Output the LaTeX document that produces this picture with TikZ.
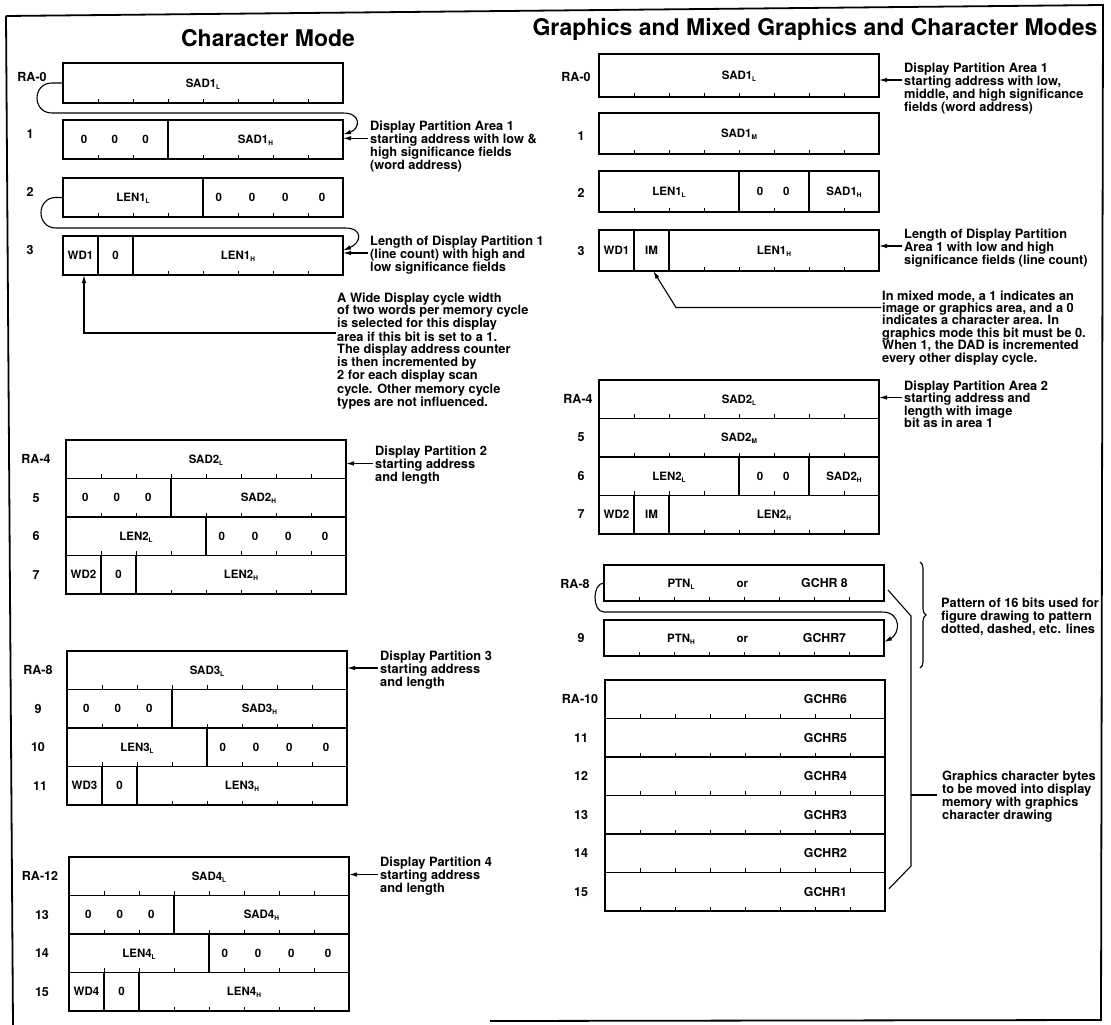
\documentclass[tikz,border=0pt]{standalone}
\usepackage{fontspec}
\setmainfont{TeX Gyre Heros}
\usetikzlibrary{calc,arrows.meta,decorations.pathreplacing}
\newcounter{fc}
\newcommand\sub[1]{\raisebox{-2pt}{\fontsize{6.5}{6.5}\selectfont #1}}
\newcommand\regrow[4]{%
  \node[reg, minimum height=#4pt, anchor=north west] (#1) at (#2,#3) {};
  \foreach \k in {1,...,7}{\draw[tickmark] ($(#1.south west)!\k/8!(#1.south east)$) -- ++(0,-4.5);}}
\newcommand\dvd[2]{\draw[bxline] ($(#1.north west)!#2/8!(#1.north east)$) -- ($(#1.south west)!#2/8!(#1.south east)$);}
\newcommand\fld[3]{\stepcounter{fc}\node[fld] (fld\arabic{fc}) at ($(#1.west)!#2/8!(#1.east)$) {#3};}
\begin{document}
\begin{tikzpicture}[x=1pt,y=-1pt,
  reg/.style={draw, line width=1.6pt, minimum width=280pt, inner sep=0pt, outer sep=0pt},
  bxline/.style={line width=1.5pt},
  tickmark/.style={line width=0.9pt},
  fld/.style={font=\fontsize{11.5}{12}\selectfont\bfseries, inner sep=0pt, text height=8.3pt, text depth=0pt},
  gch/.style={fld, font=\fontsize{12.3}{13}\selectfont\bfseries, text height=8.9pt},
  lab/.style={font=\fontsize{12.5}{13}\selectfont\bfseries, inner sep=0pt, text height=9pt, text depth=0pt},
  ann/.style={font=\fontsize{12.8}{13}\selectfont\bfseries, align=left, inner sep=0pt, anchor=north west},
  ttl/.style={font=\fontsize{23}{24}\selectfont\bfseries, inner sep=0pt, text height=16.5pt, text depth=0pt},
  arr/.style={line width=1.1pt, -{Latex[length=8pt,width=4.5pt]}},
  ln/.style={line width=1.1pt},
  frame/.style={line width=1.8pt},
]
\useasboundingbox (0,0) rectangle (1111,1025);
% frame
\draw[frame] (6,16) -- (1103,5) -- (1101,1020) -- (490,1021);
\draw[frame] (6,16) -- (13,1025);
% titles
\node[ttl] (t1) at (268,38) {Character Mode};
\node[ttl] (t2) at (815,27) {Graphics and Mixed Graphics and Character Modes};

% ================= LEFT COLUMN =================
\regrow{L0}{63}{63}{40}
\fld{L0}{4}{SAD1\sub{L}}
\regrow{L1}{63}{120}{39}
\dvd{L1}{3}
\fld{L1}{0.6}{0}\fld{L1}{1.48}{0}\fld{L1}{2.36}{0}\fld{L1}{5.5}{SAD1\sub{H}}
\regrow{L2}{63}{178}{39}
\dvd{L2}{4}
\fld{L2}{2}{LEN1\sub{L}}\fld{L2}{4.45}{0}\fld{L2}{5.4}{0}\fld{L2}{6.35}{0}\fld{L2}{7.4}{0}
\regrow{L3}{63}{236}{39}
\dvd{L3}{1}\dvd{L3}{2}
\fld{L3}{0.5}{WD1}\fld{L3}{1.5}{0}\fld{L3}{5}{LEN1\sub{H}}

\regrow{L4}{66}{440}{38.5}
\fld{L4}{4}{SAD2\sub{L}}
\regrow{L5}{66}{478.5}{38.5}
\dvd{L5}{3}
\fld{L5}{0.55}{0}\fld{L5}{1.45}{0}\fld{L5}{2.35}{0}\fld{L5}{5.5}{SAD2\sub{H}}
\regrow{L6}{66}{517}{38.5}
\dvd{L6}{4}
\fld{L6}{2}{LEN2\sub{L}}\fld{L6}{4.45}{0}\fld{L6}{5.4}{0}\fld{L6}{6.35}{0}\fld{L6}{7.4}{0}
\regrow{L7}{66}{555.5}{38.5}
\dvd{L7}{1}\dvd{L7}{2}
\fld{L7}{0.5}{WD2}\fld{L7}{1.5}{0}\fld{L7}{5}{LEN2\sub{H}}

\regrow{L8}{67}{651}{38.5}
\fld{L8}{4}{SAD3\sub{L}}
\regrow{L9}{67}{689.5}{38.5}
\dvd{L9}{3}
\fld{L9}{0.55}{0}\fld{L9}{1.45}{0}\fld{L9}{2.35}{0}\fld{L9}{5.5}{SAD3\sub{H}}
\regrow{L10}{67}{728}{38.5}
\dvd{L10}{4}
\fld{L10}{2}{LEN3\sub{L}}\fld{L10}{4.45}{0}\fld{L10}{5.4}{0}\fld{L10}{6.35}{0}\fld{L10}{7.4}{0}
\regrow{L11}{67}{766.5}{38.5}
\dvd{L11}{1}\dvd{L11}{2}
\fld{L11}{0.5}{WD3}\fld{L11}{1.5}{0}\fld{L11}{5}{LEN3\sub{H}}

\regrow{L12}{69}{857}{38.5}
\fld{L12}{4}{SAD4\sub{L}}
\regrow{L13}{69}{895.5}{38.5}
\dvd{L13}{3}
\fld{L13}{0.55}{0}\fld{L13}{1.45}{0}\fld{L13}{2.35}{0}\fld{L13}{5.5}{SAD4\sub{H}}
\regrow{L14}{69}{934}{38.5}
\dvd{L14}{4}
\fld{L14}{2}{LEN4\sub{L}}\fld{L14}{4.45}{0}\fld{L14}{5.4}{0}\fld{L14}{6.35}{0}\fld{L14}{7.4}{0}
\regrow{L15}{69}{972.5}{38.5}
\dvd{L15}{1}\dvd{L15}{2}
\fld{L15}{0.5}{WD4}\fld{L15}{1.5}{0}\fld{L15}{5}{LEN4\sub{H}}

% left labels
\node[lab] (lb-L0) at (32,77) {RA-0};
\node[lab] (lb-L1) at (30,134) {1};
\node[lab] (lb-L2) at (30,192) {2};
\node[lab] (lb-L3) at (30,250) {3};
\node[lab] (lb-L4) at (36,459) {RA-4};
\node[lab] (lb-L5) at (36,498) {5};
\node[lab] (lb-L6) at (36,536) {6};
\node[lab] (lb-L7) at (36,575) {7};
\node[lab] (lb-L8) at (38,670) {RA-8};
\node[lab] (lb-L9) at (38,709) {9};
\node[lab] (lb-L10) at (38,747) {10};
\node[lab] (lb-L11) at (40,786) {11};
\node[lab] (lb-L12) at (40,876) {RA-12};
\node[lab] (lb-L13) at (42,915) {13};
\node[lab] (lb-L14) at (42,953) {14};
\node[lab] (lb-L15) at (42,992) {15};

% left loops
\draw[arr] (L0.west) -- (52,83) .. controls (32,83) and (32,113) .. (52,113) -- (343,113)
  .. controls (362,113) and (360,129) .. ([yshift=5pt]L1.east);
\draw[arr] (L2.west) -- (56,197.5) .. controls (36,197.5) and (36,228) .. (56,228) -- (345,228)
  .. controls (364,228) and (361,243) .. ([yshift=5pt]L3.east);

% left annotations
\node[ann] (la1) at (370,120.4) {Display Partition Area 1\\starting address with low \&\\high significance fields\\(word address)};
\draw[arr] ([xshift=-2pt]la1.north west |- 0,138.3) -- (L1.east |- 0,138.3);
\node[ann] (la2) at (370,235.4) {Length of Display Partition 1\\(line count) with high and\\low significance fields};
\draw[arr] ([xshift=-2pt]la2.north west |- 0,253) -- (L3.east |- 0,253);
\node[ann, font=\fontsize{12.8}{12.2}\selectfont\bfseries] (wd) at (337,292.4) {A Wide Display cycle width\\of two words per memory cycle\\is selected for this display\\area if this bit is set to a 1.\\The display address counter\\is then incremented by\\2 for each display scan\\cycle. Other memory cycle\\types are not influenced.};
\coordinate (wdtip) at ($(L3.south west)!0.6/8!(L3.south east)$);
\draw[arr] ([xshift=-1pt]wd.north west |- 0,333) -- (wdtip |- 0,333) -- (wdtip);
\node[ann] (la3) at (375,445.4) {Display Partition 2\\starting address\\and length};
\draw[arr] ([xshift=-2pt]la3.north west |- 0,463.5) -- (L4.east |- 0,463.5);
\node[ann] (la4) at (380,650.4) {Display Partition 3\\starting address\\and length};
\draw[arr] ([xshift=-2pt]la4.north west |- 0,668) -- (L8.east |- 0,668);
\node[ann] (la5) at (380,856.4) {Display Partition 4\\starting address\\and length};
\draw[arr] ([xshift=-2pt]la5.north west |- 0,874.5) -- (L12.east |- 0,874.5);

% ================= RIGHT COLUMN =================
\regrow{R0}{599}{54}{43}
\fld{R0}{4}{SAD1\sub{L}}
\regrow{R1}{599}{113}{41}
\fld{R1}{4}{SAD1\sub{M}}
\regrow{R2}{599}{171}{41}
\dvd{R2}{4}\dvd{R2}{6}
\fld{R2}{2}{LEN1\sub{L}}\fld{R2}{4.6}{0}\fld{R2}{5.35}{0}\fld{R2}{7}{SAD1\sub{H}}
\regrow{R3}{599}{230}{41}
\dvd{R3}{1}\dvd{R3}{2}
\fld{R3}{0.5}{WD1}\fld{R3}{1.5}{IM}\fld{R3}{5}{LEN1\sub{H}}

\regrow{R4}{599}{380}{38.5}
\fld{R4}{4}{SAD2\sub{L}}
\regrow{R5}{599}{418.5}{38.5}
\fld{R5}{4}{SAD2\sub{M}}
\regrow{R6}{599}{457}{38.5}
\dvd{R6}{4}\dvd{R6}{6}
\fld{R6}{2}{LEN2\sub{L}}\fld{R6}{4.6}{0}\fld{R6}{5.35}{0}\fld{R6}{7}{SAD2\sub{H}}
\regrow{R7}{599}{495.5}{38.5}
\dvd{R7}{1}\dvd{R7}{2}
\fld{R7}{0.5}{WD2}\fld{R7}{1.5}{IM}\fld{R7}{5}{LEN2\sub{H}}

\regrow{R8}{604}{565}{36}
\fld{R8}{2.2}{PTN\sub{L}}\fld{R8}{3.95}{or}\stepcounter{fc}\node[gch] (fld\arabic{fc}) at ($(R8.west)!6.3/8!(R8.east)$) {GCHR 8};
\regrow{R9}{604}{620}{36}
\fld{R9}{2.2}{PTN\sub{H}}\fld{R9}{3.95}{or}\stepcounter{fc}\node[gch] (fld\arabic{fc}) at ($(R9.west)!6.3/8!(R9.east)$) {GCHR7};

\regrow{R10}{605}{680}{38.5}
\regrow{R11}{605}{718.5}{38.5}
\regrow{R12}{605}{757}{38.5}
\regrow{R13}{605}{795.5}{38.5}
\regrow{R14}{605}{834}{38.5}
\regrow{R15}{605}{872.5}{38.5}
\foreach \r/\g in {R10/6,R11/5,R12/4,R13/3,R14/2,R15/1}{
  \node[gch] (g-\r) at ($(\r.west)!6.3/8!(\r.east)$) {GCHR\g};}

% right labels
\node[lab] (lb-R0) at (576,77) {RA-0};
\node[lab] (lb-R1) at (581,136) {1};
\node[lab] (lb-R2) at (581,193) {2};
\node[lab] (lb-R3) at (581,251) {3};
\node[lab] (lb-R4) at (578,399) {RA-4};
\node[lab] (lb-R5) at (581,437) {5};
\node[lab] (lb-R6) at (581,476) {6};
\node[lab] (lb-R7) at (581,514) {7};
\node[lab] (lb-R8) at (575,584) {RA-8};
\node[lab] (lb-R9) at (581,638) {9};
\node[lab] (lb-R10) at (580,699) {RA-10};
\node[lab] (lb-R11) at (581,738) {11};
\node[lab] (lb-R12) at (581,776) {12};
\node[lab] (lb-R13) at (581,815) {13};
\node[lab] (lb-R14) at (581,853) {14};
\node[lab] (lb-R15) at (581,892) {15};

% right loop
\draw[arr] (R8.west) .. controls (592,583) and (592,612) .. (604,612) -- (882,612)
  .. controls (902,612) and (900,634) .. ([yshift=-4pt]R9.east);

% right annotations
\node[ann] (ra1) at (904,62.4) {Display Partition Area 1\\starting address with low,\\middle, and high significance\\fields (word address)};
\draw[arr] ([xshift=-2pt]ra1.north west |- 0,80) -- (R0.east |- 0,80);
\node[ann] (ra2) at (904,228.4) {Length of Display Partition\\Area 1 with low and high\\significance fields (line count)};
\draw[arr] ([xshift=-2pt]ra2.north west |- 0,246) -- (R3.east |- 0,246);
\node[ann, font=\fontsize{12.8}{12.4}\selectfont\bfseries] (im) at (882,290.4) {In mixed mode, a 1 indicates an\\image or graphics area, and a 0\\indicates a character area. In\\graphics mode this bit must be 0.\\When 1, the DAD is incremented\\every other display cycle.};
\coordinate (imtip) at ($(R3.south west)!1.55/8!(R3.south east)$);
\coordinate (imc) at (676,307.5);
\draw[arr] ([xshift=-1pt]im.north west |- 0,307.5) -- (imc) -- (imtip);
\node[ann, font=\fontsize{12.8}{12.5}\selectfont\bfseries] (ra3) at (904,380.4) {Display Partition Area 2\\starting address and\\length with image\\bit as in area 1};
\draw[arr] ([xshift=-2pt]ra3.north west |- 0,397.5) -- (R4.east |- 0,397.5);
\node[ann] (ra4) at (941,597.4) {Pattern of 16 bits used for\\figure drawing to pattern\\dotted, dashed, etc. lines};
\draw[ln, decorate, decoration={brace, amplitude=6pt}] (920,562) -- (920,668);
\node[ann] (ra5) at (942,770.4) {Graphics character bytes\\to be moved into display\\memory with graphics\\character drawing};
\coordinate (bk1) at ([xshift=4pt,yshift=-7pt]R8.east);
\coordinate (bk2) at (911,616);
\coordinate (bk3) at (911,866);
\coordinate (bk4) at ([xshift=4pt,yshift=3pt]R15.east);
\draw[ln] (bk1) -- (bk2) -- (bk3) -- (bk4);
\draw[ln] (911,795) -- ([xshift=-5pt]ra5.north west |- 0,795);
\end{tikzpicture}
\end{document}
